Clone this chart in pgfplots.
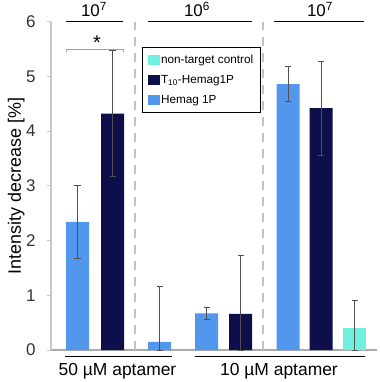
\documentclass[border=0pt]{standalone}
\usepackage{fontspec}
\setmainfont{Liberation Sans}
\usepackage{pgfplots}
\pgfplotsset{compat=1.18}

\definecolor{hemag}{RGB}{82,150,238}
\definecolor{tten}{RGB}{14,14,74}
\definecolor{ntc}{RGB}{112,240,222}
\definecolor{errc}{RGB}{80,80,80}
\definecolor{axgray}{RGB}{200,200,200}
\definecolor{dashgray}{RGB}{190,196,196}

\newcommand{\fs}[1]{\fontsize{#1}{#1}\selectfont}

\begin{document}
\begin{tikzpicture}
\begin{axis}[
  scale only axis, width=326bp, height=328.3bp,
  xmin=0, xmax=326, ymin=0, ymax=6,
  axis x line=bottom, axis y line=left,
  axis line style={-, line width=1.2bp},
  x axis line style={draw=axgray!85!black},
  y axis line style={draw=axgray},
  xtick=\empty, ytick={0,1,...,6},
  tick align=outside, major tick length=4bp,
  ytick style={draw=axgray, line width=1bp},
  yticklabel style={font=\fs{17}, text=black!80, xshift=-8bp},
  /pgf/number format/assume math mode=true,
  ylabel={Intensity decrease [\%]},
  ylabel style={font=\fs{18}, at={(axis description cs:-0.107,0.5)}, anchor=center},
  clip=false,
  ybar, bar width=23bp,
  error bars/y dir=both, error bars/y explicit,
  error bars/error bar style={draw=errc, line width=0.9bp},
  error bars/error mark options={draw=errc, line width=0.9bp, mark size=3bp, rotate=90},
  reverse legend, legend cell align=left,
  legend style={at={(axis cs:91,5.53)}, anchor=north west, draw=black, line width=0.9bp,
    font=\fs{11.8}, inner xsep=6bp, inner ysep=5.5bp, row sep=6bp,
    nodes={inner sep=1bp, text height=9bp, text depth=3bp},
    /tikz/every even column/.append style={column sep=3.5bp}},
  sq/.style={legend image code/.code={\fill[##1,draw=none] (0bp,-5bp) rectangle (11.6bp,5bp);}},
]
% Hemag 1P
\addplot[fill=hemag, draw=none, bar shift=0pt, sq] coordinates {
  (26.5,2.34) +- (0,0.66)
  (108.5,0.15) += (0,1.01) -= (0,0.15)
  (155.5,0.67) +- (0,0.11)
  (237,4.86) +- (0,0.32)
};
\addlegendentry{Hemag 1P}
% T10-Hemag1P
\addplot[fill=tten, draw=none, bar shift=0pt, sq] coordinates {
  (61.5,4.32) +- (0,1.15)
  (189.5,0.66) += (0,1.07) -= (0,0.66)
  (270,4.42) +- (0,0.86)
};
\addlegendentry{T\textsubscript{10}-Hemag1P}
% non-target control
\addplot[fill=ntc, draw=none, bar shift=0pt, sq] coordinates {
  (303.5,0.41) += (0,0.50) -= (0,0.41)
};
\addlegendentry{non-target control}

% separators
\draw[dashgray, line width=2bp, dash pattern=on 9bp off 7bp] (axis cs:84,0) -- (axis cs:84,6);
\draw[dashgray, line width=2bp, dash pattern=on 9bp off 7bp] (axis cs:212,0) -- (axis cs:212,6);

% concentration labels on top
\draw[black, line width=1.3bp] (axis cs:15,6) -- (axis cs:72,6);
\draw[black, line width=1.3bp] (axis cs:97,6) -- (axis cs:201,6);
\draw[black, line width=1.3bp] (axis cs:223,6) -- (axis cs:313,6);
\node[font=\fs{17}] at (axis cs:43,6.22) {10\textsuperscript{7}};
\node[font=\fs{17}] at (axis cs:146,6.22) {10\textsuperscript{6}};
\node[font=\fs{17}] at (axis cs:269,6.22) {10\textsuperscript{7}};

% significance bracket
\draw[axgray!80!black, line width=0.8bp] (axis cs:15,5.44) -- (axis cs:15,5.5) -- (axis cs:72,5.5) -- (axis cs:72,5.44);
\node[font=\fs{20}] at (axis cs:46,5.61) {*};

% aptamer groups
\draw[black, line width=1.3bp] (axis cs:14,-0.12) -- (axis cs:121,-0.12);
\draw[black, line width=1.3bp] (axis cs:144,-0.12) -- (axis cs:314,-0.12);
\node[font=\fs{17.5}, anchor=base] at (axis cs:66.5,-0.457) {50 µM aptamer};
\node[font=\fs{17.5}, anchor=base] at (axis cs:228,-0.457) {10 µM aptamer};
\end{axis}
\pgfresetboundingbox
\path[use as bounding box] (-51bp,-32bp) rectangle (329bp,350bp);
\end{tikzpicture}
\end{document}
